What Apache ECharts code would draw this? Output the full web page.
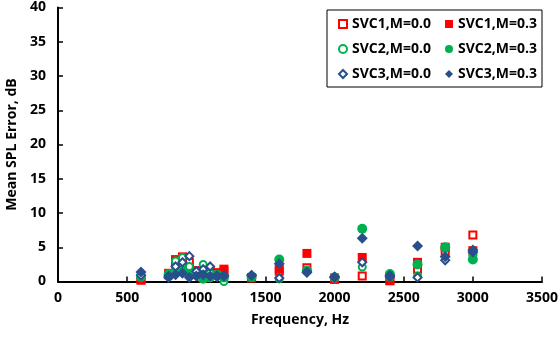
<!DOCTYPE html>
<html><head><meta charset="utf-8">
<script src="https://cdn.jsdelivr.net/npm/echarts@6/dist/echarts.min.js"></script>
<style>html,body{margin:0;padding:0;background:#fff}#c{width:558px;height:339px}</style>
</head><body><div id="c"></div>
<script>
const freqs = [600, 800, 850, 900, 950, 1000, 1050, 1100, 1150, 1200, 1400, 1600, 1800, 2000, 2200, 2400, 2600, 2800, 3000];
const svc1_m0 = [0.2, 1.0, 2.6, 3.5, 2.8, 1.2, 0.5, 1.4, 1.0, 1.5, 0.6, 1.5, 2.0, 0.5, 0.8, 0.2, 1.8, 4.3, 6.8];
const svc1_m3 = [0.3, 1.2, 3.2, 3.6, 2.0, 1.6, 1.0, 1.5, 1.3, 1.8, 0.5, 1.8, 4.1, 0.3, 3.5, 0.1, 2.8, 5.0, 4.5];
const svc2_m0 = [0.6, 1.0, 3.0, 3.5, 2.2, 1.0, 2.5, 1.2, 0.8, 0.0, 0.6, 0.4, 1.5, 0.5, 2.1, 0.6, 0.8, 4.8, 3.8];
const svc2_m3 = [0.8, 1.1, 1.5, 1.6, 1.0, 1.0, 0.4, 0.6, 1.0, 0.6, 0.7, 3.2, 1.6, 0.6, 7.7, 1.1, 2.5, 5.0, 3.2];
const svc3_m0 = [0.9, 0.8, 2.2, 2.8, 3.7, 1.5, 1.8, 2.2, 0.9, 0.9, 0.9, 0.5, 1.3, 0.6, 2.8, 0.9, 0.6, 3.1, 4.3];
const svc3_m3 = [1.4, 0.6, 1.0, 1.2, 0.6, 0.8, 1.0, 0.8, 0.7, 0.8, 0.9, 2.6, 1.4, 0.7, 6.3, 0.7, 5.2, 3.6, 4.6];
const yTicks = [0, 5, 10, 15, 20, 25, 30, 35, 40];
const xTicks = [0, 500, 1000, 1500, 2000, 2500, 3000, 3500];
const seriesNames = ['SVC1,M=0.0', 'SVC1,M=0.3', 'SVC2,M=0.0', 'SVC2,M=0.3', 'SVC3,M=0.0', 'SVC3,M=0.3'];

const RED = '#ff0000', GREEN = '#00b050', BLUE = '#264f8c';
const pts = arr => freqs.map((f, i) => [f, arr[i]]);
const FONT = 'Open Sans';
function s(name, data, symbol, color, open, size) {
  return {
    name, type: 'scatter', data: pts(data), symbol, symbolSize: size,
    itemStyle: open ? {color: '#fff', borderColor: color, borderWidth: 2, opacity: 1}
                    : {color: color, borderWidth: 0, opacity: 1},
    emphasis: {disabled: true}
  };
}
const chart = echarts.init(document.getElementById('c'));
chart.setOption({
  animation: false,
  backgroundColor: '#fff',
  grid: {left: 58, right: 16, top: 7.5, bottom: 57.5, containLabel: false, outerBoundsMode: 'none'},
  legend: {
    left: 327, top: 10, orient: 'horizontal', width: 216,
    itemGap: 9, itemWidth: 8, itemHeight: 8, itemTextGap: 6,
    padding: [6, 0, 5, 11],
    borderColor: '#000', borderWidth: 1, backgroundColor: '#fff',
    textStyle: {fontFamily: FONT, fontWeight: 'bold', fontSize: 14, color: '#000', width: 84, lineHeight: 16},
    data: seriesNames
  },
  xAxis: {
    type: 'value', min: 0, max: 3500, interval: 500,
    name: 'Frequency, Hz', nameLocation: 'middle', nameGap: 32,
    nameTextStyle: {fontFamily: FONT, fontWeight: 'bold', fontSize: 14, color: '#000'},
    axisLine: {show: true, lineStyle: {color: '#000', width: 2}},
    axisTick: {show: true, inside: true, length: 5, lineStyle: {color: '#000', width: 1.5}},
    axisLabel: {fontFamily: FONT, fontWeight: 'bold', fontSize: 14, color: '#000', margin: 10,
      formatter: v => xTicks.includes(v) ? String(v) : ''},
    splitLine: {show: false}
  },
  yAxis: {
    type: 'value', min: 0, max: 40, interval: 5,
    name: 'Mean SPL Error, dB', nameLocation: 'middle', nameGap: 35,
    nameTextStyle: {fontFamily: FONT, fontWeight: 'bold', fontSize: 14, color: '#000'},
    axisLine: {show: true, lineStyle: {color: '#000', width: 2}},
    axisTick: {show: true, inside: true, length: 5, lineStyle: {color: '#000', width: 1.5}},
    axisLabel: {fontFamily: FONT, fontWeight: 'bold', fontSize: 14, color: '#000', margin: 12,
      formatter: v => yTicks.includes(v) ? String(v) : ''},
    splitLine: {show: false}
  },
  series: [
    s(seriesNames[0], svc1_m0, 'rect', RED, true, 7),
    s(seriesNames[1], svc1_m3, 'rect', RED, false, 9),
    s(seriesNames[2], svc2_m0, 'circle', GREEN, true, 7),
    s(seriesNames[3], svc2_m3, 'circle', GREEN, false, 10),
    s(seriesNames[4], svc3_m0, 'diamond', BLUE, true, 8),
    s(seriesNames[5], svc3_m3, 'diamond', BLUE, false, 11)
  ]
});
</script></body></html>
